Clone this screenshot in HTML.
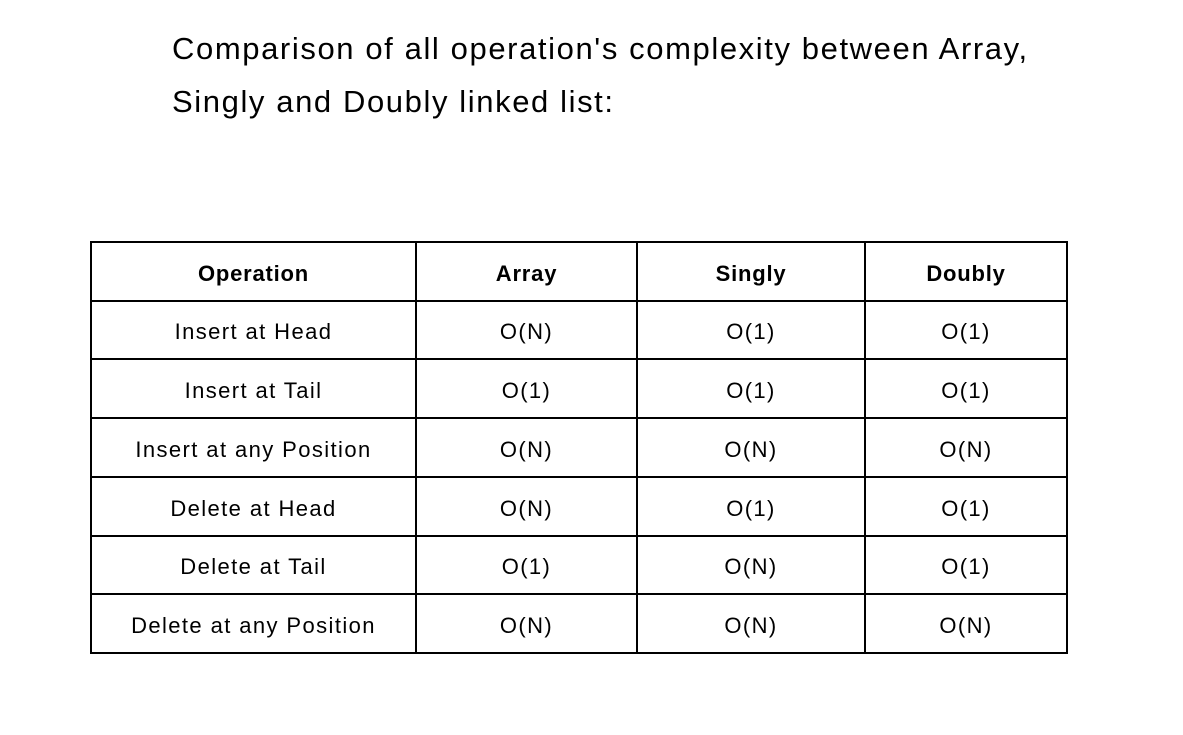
<!DOCTYPE html>
<html><head><style>
body{margin:0;width:1183px;height:735px;background:#fff;position:relative;font-family:"Liberation Sans",sans-serif;color:#000;overflow:hidden}
.t{position:absolute;left:172px;font-size:31px;letter-spacing:1.6px;white-space:nowrap}
.h{position:absolute;background:#000}
.c{position:absolute;display:flex;align-items:center;justify-content:center;font-size:22px;letter-spacing:1.4px;white-space:nowrap;padding-top:4px;box-sizing:border-box}
.b{font-weight:bold;letter-spacing:0.8px}
</style></head><body>
<div class="t" style="top:31px">Comparison of all operation's complexity between Array,</div>
<div class="t" style="top:84px">Singly and Doubly linked list:</div>
<div id="g"></div>
<script>
var cols=[90,415,636,864,1066],rows=[241,300,358,417,476,535,593,652];
var data=[["Operation","Array","Singly","Doubly"],["Insert at Head","O(N)","O(1)","O(1)"],["Insert at Tail","O(1)","O(1)","O(1)"],["Insert at any Position","O(N)","O(N)","O(N)"],["Delete at Head","O(N)","O(1)","O(1)"],["Delete at Tail","O(1)","O(N)","O(1)"],["Delete at any Position","O(N)","O(N)","O(N)"]];
var h="";
rows.forEach(function(y){h+='<div class="h" style="left:90px;top:'+y+'px;width:978px;height:2px"></div>';});
cols.forEach(function(x){h+='<div class="h" style="left:'+x+'px;top:241px;width:2px;height:413px"></div>';});
for(var r=0;r<7;r++)for(var c=0;c<4;c++){h+='<div class="c'+(r==0?' b':'')+'" style="left:'+cols[c]+'px;top:'+rows[r]+'px;width:'+(cols[c+1]-cols[c]+2)+'px;height:'+(rows[r+1]-rows[r]+2)+'px">'+data[r][c]+'</div>';}
document.getElementById("g").innerHTML=h;
</script>
</body></html>
